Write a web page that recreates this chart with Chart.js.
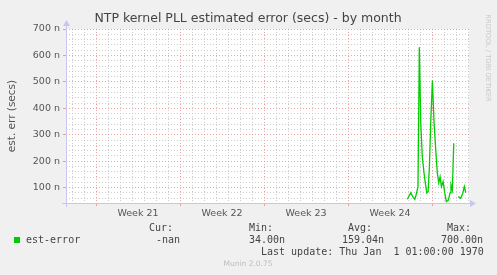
<!DOCTYPE html>
<html>
<head>
<meta charset="utf-8">
<script src="https://cdn.jsdelivr.net/npm/chart.js@4/dist/chart.umd.min.js"></script>
<style>
  html, body { margin: 0; padding: 0; background: #f0f0f0; }
  canvas { display: block; }
</style>
</head>
<body>
<canvas id="chart" width="497" height="275"></canvas>
<script>
// time in days from the start of week 21, value in nanoseconds (null = no data)
const days = [25.94, 26.23, 26.39, 26.56, 26.67, 26.83, 26.94, 27.06, 27.19, 27.33, 27.44, 27.56, 27.67, 27.78,
  27.89, 28.03, 28.17, 28.31, 28.44, 28.56, 28.67, 28.78, 28.92, 29.06, 29.19, 29.36, 29.5, 29.58, 29.69, 29.81,
  29.95, 30.19, 30.39, 30.56, 30.69, 30.81];
const estError = [56, 81, 66, 56, 72, 104, 631, 345, 217, 156, 118, 80, 85, 179,
  345, 505, 345, 242, 156, 118, 141, 104, 123, 80, 47, 53, 80, 110, 91, 268,
  null, 66, 60, 79, 104, 81];

const weekLabels = ['Week 21', 'Week 22', 'Week 23', 'Week 24'];
const weekCenters = [3.5, 10.5, 17.5, 24.5];
const yLabels = [100, 200, 300, 400, 500, 600, 700];

const statNames = ['Cur:', 'Min:', 'Avg:', 'Max:'];
const statValues = ['-nan', '34.00n', '159.04n', '700.00n'];
const lastUpdate = 'Last update: Thu Jan  1 01:00:00 1970';

const GRID = 'rgba(190,190,190,0.75)';
const MGRID = 'rgba(235,130,130,0.75)';
const AXIS = '#c6c6ee';
const TEXT = '#555';

// grid positions: one line a day, one every 20 n
const xTicks = [];
for (let d = -2; d <= 31; d++) xTicks.push(d);
const yTicks = [];
for (let v = 60; v <= 700; v += 20) yTicks.push(v);

const munin = {
  id: 'munin',
  beforeDraw(chart) {
    const { ctx, chartArea: a } = chart;
    ctx.save();
    ctx.fillStyle = '#f0f0f0';
    ctx.fillRect(0, 0, chart.width, chart.height);
    ctx.fillStyle = '#ffffff';
    ctx.fillRect(a.left, a.top, a.right - a.left, a.bottom - a.top);
    ctx.restore();
  },
  afterDraw(chart) {
    const { ctx, chartArea: a } = chart;
    ctx.save();

    // axes with arrows
    ctx.strokeStyle = AXIS;
    ctx.fillStyle = AXIS;
    ctx.lineWidth = 1;
    ctx.beginPath();
    ctx.moveTo(a.left - 4, a.bottom + 0.5);
    ctx.lineTo(a.right + 2, a.bottom + 0.5);
    ctx.moveTo(a.left + 0.5, a.bottom + 4);
    ctx.lineTo(a.left + 0.5, a.top - 3);
    ctx.stroke();
    ctx.beginPath();
    ctx.moveTo(a.right + 7, a.bottom + 0.5);
    ctx.lineTo(a.right + 1, a.bottom - 3);
    ctx.lineTo(a.right + 1, a.bottom + 4);
    ctx.closePath();
    ctx.fill();
    ctx.beginPath();
    ctx.moveTo(a.left + 0.5, a.top - 9);
    ctx.lineTo(a.left - 3, a.top - 3);
    ctx.lineTo(a.left + 4, a.top - 3);
    ctx.closePath();
    ctx.fill();

    // title
    ctx.fillStyle = '#444';
    ctx.font = '12.5px "DejaVu Sans"';
    ctx.textAlign = 'center';
    ctx.textBaseline = 'middle';
    ctx.fillText('NTP kernel PLL estimated error (secs) - by month', 248, 19);

    // side credit
    ctx.save();
    ctx.translate(488, 58);
    ctx.rotate(Math.PI / 2);
    ctx.fillStyle = '#c8c8c8';
    ctx.font = '6.8px "DejaVu Sans"';
    ctx.fillText('RRDTOOL / TOBI OETIKER', 0, 0);
    ctx.restore();

    // legend table
    ctx.fillStyle = '#00cc00';
    ctx.fillRect(14, 237, 6, 6);
    ctx.fillStyle = '#444';
    ctx.font = '10px "DejaVu Sans Mono"';
    ctx.textAlign = 'left';
    ctx.fillText('est-error', 26, 240);
    const headX = [149, 249, 348, 447];
    const valX = [156, 249, 342, 441];
    statNames.forEach((s, i) => ctx.fillText(s, headX[i], 228));
    statValues.forEach((s, i) => ctx.fillText(s, valX[i], 240));
    ctx.fillText(lastUpdate, 261, 252);

    ctx.fillStyle = '#bdbdbd';
    ctx.font = '7.5px "DejaVu Sans"';
    ctx.textAlign = 'center';
    ctx.fillText('Munin 2.0.75', 248, 264);
    ctx.restore();
  }
};

new Chart(document.getElementById('chart'), {
  type: 'line',
  data: {
    datasets: [{
      label: 'est-error',
      data: days.map((d, i) => ({ x: d, y: estError[i] })),
      borderColor: '#00cc00',
      borderWidth: 1.3,
      pointRadius: 0,
      tension: 0,
      spanGaps: false
    }]
  },
  options: {
    responsive: false,
    animation: false,
    layout: { padding: { top: 29, right: 28, bottom: 52, left: 0 } },
    plugins: {
      legend: { display: false },
      tooltip: { enabled: false }
    },
    scales: {
      x: {
        type: 'linear',
        min: -2.5,
        max: 31.08,
        afterBuildTicks: s => { s.ticks = xTicks.concat(weekCenters).map(v => ({ value: v })); },
        afterFit: s => { s.height = 20; },
        border: { display: false, dash: [1, 2] },
        grid: {
          color: c => weekCenters.includes(c.tick.value) ? 'transparent' : (c.tick.value % 7 === 0 ? MGRID : GRID),
          tickColor: c => (!weekCenters.includes(c.tick.value) && c.tick.value % 7 === 0) ? MGRID : 'transparent',
          tickLength: 3,
          lineWidth: 1
        },
        ticks: {
          autoSkip: false,
          maxRotation: 0,
          padding: 2,
          color: TEXT,
          font: { family: 'DejaVu Sans', size: 9.5 },
          callback: v => {
            const i = weekCenters.indexOf(v);
            return i >= 0 ? weekLabels[i] : '';
          }
        }
      },
      y: {
        min: 42,
        max: 700,
        afterBuildTicks: s => { s.ticks = yTicks.map(v => ({ value: v })); },
        afterFit: s => { s.width = 66; },
        border: { display: false, dash: [1, 2] },
        grid: {
          color: c => c.tick.value % 100 === 0 ? MGRID : GRID,
          tickColor: c => c.tick.value % 100 === 0 ? MGRID : 'transparent',
          tickLength: 3,
          lineWidth: 1
        },
        title: {
          display: true,
          text: 'est. err (secs)',
          color: TEXT,
          font: { family: 'DejaVu Sans', size: 10.5 },
          padding: { top: 6, bottom: 0 }
        },
        ticks: {
          autoSkip: false,
          padding: 3,
          color: TEXT,
          font: { family: 'DejaVu Sans', size: 9.5 },
          callback: v => yLabels.includes(v) ? v + ' n' : ''
        }
      }
    }
  },
  plugins: [munin]
});
</script>
</body>
</html>
